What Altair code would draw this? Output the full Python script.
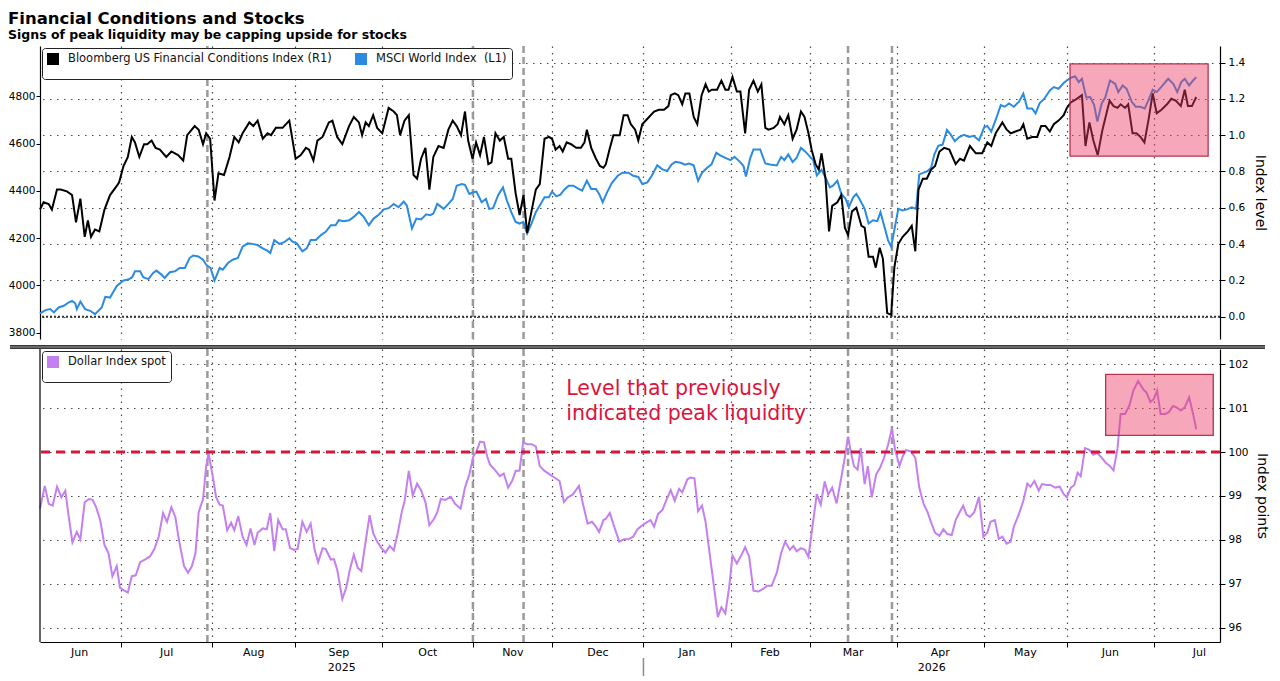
import altair as alt
import pandas as pd

FONT = "DejaVu Sans"
W, HT, HB = 1180, 293, 293

FCI_NAME = "Bloomberg US Financial Conditions Index (R1)"
MSCI_NAME = "MSCI World Index\u00a0 (L1)"
DXY_NAME = "Dollar Index spot"

# x = weekday index, 0 = Mon 2 Jun 2025
fci = [
    (0.0, 0.59), (0.9, 0.63), (2.2, 0.62), (3.0, 0.59), (4.3, 0.70), (5.2, 0.70), (6.8, 0.69), (8.1, 0.67),
    (9.1, 0.52), (10.2, 0.65), (11.3, 0.44), (12.1, 0.53), (12.9, 0.44), (13.9, 0.48), (15.0, 0.47), (16.3, 0.59),
    (17.7, 0.67), (19.4, 0.72), (20.0, 0.74), (21.1, 0.83), (22.2, 0.88), (23.2, 0.99), (24.0, 0.96), (25.1, 0.88),
    (26.3, 0.95), (27.1, 0.95), (28.2, 0.97), (29.2, 0.93), (30.3, 0.92), (31.9, 0.88), (33.2, 0.91), (34.9, 0.89),
    (36.2, 0.86), (37.2, 1.00), (39.1, 1.05), (40.1, 1.03), (41.2, 0.95), (42.0, 1.01), (43.0, 0.98), (44.1, 0.64),
    (45.1, 0.79), (46.5, 0.78), (47.9, 0.88), (49.1, 0.99), (50.2, 0.96), (51.2, 1.01), (52.9, 1.07), (53.9, 1.05),
    (55.0, 1.08), (56.3, 0.98), (57.5, 1.01), (58.4, 1.00), (59.6, 1.04), (61.3, 1.04), (63.0, 1.08), (64.6, 0.87),
    (65.9, 0.89), (67.2, 0.93), (68.0, 0.92), (69.1, 0.86), (70.1, 0.97), (71.4, 0.99), (73.0, 1.07), (73.9, 1.08),
    (75.1, 0.99), (76.4, 0.95), (78.1, 1.05), (79.3, 1.10), (80.6, 1.07), (81.4, 1.00), (82.3, 1.07), (83.1, 1.05),
    (84.2, 1.11), (85.2, 1.04), (86.5, 1.01), (88.1, 1.15), (89.4, 1.13), (90.2, 1.11), (91.0, 1.00), (92.1, 1.08),
    (93.2, 1.11), (94.4, 0.78), (95.3, 0.76), (96.3, 0.87), (97.4, 0.93), (98.4, 0.70), (99.4, 0.88), (100.7, 0.94),
    (102.0, 0.93), (103.2, 1.03), (104.3, 1.08), (105.3, 1.05), (106.4, 1.00), (107.4, 1.13), (108.2, 0.97), (109.3, 0.87),
    (110.2, 0.96), (111.2, 0.89), (112.2, 0.99), (113.3, 0.84), (114.1, 0.85), (115.1, 1.01), (116.2, 0.97), (117.2, 0.99),
    (118.3, 0.87), (119.1, 0.87), (120.2, 0.68), (121.2, 0.56), (122.2, 0.67), (123.1, 0.46), (124.2, 0.58), (125.3, 0.70),
    (126.3, 0.73), (127.5, 0.98), (128.6, 0.99), (129.4, 0.98), (130.3, 0.92), (131.3, 0.94), (132.1, 0.91), (133.1, 0.96),
    (134.2, 0.95), (135.5, 0.93), (136.7, 0.93), (137.6, 0.96), (138.2, 1.03), (139.3, 0.93), (140.5, 0.87), (141.5, 0.83),
    (142.4, 0.82), (143.0, 0.84), (143.9, 0.92), (144.9, 1.00), (146.0, 1.00), (146.5, 1.00), (147.5, 1.11), (148.5, 1.11),
    (149.3, 1.06), (150.4, 1.03), (151.2, 0.97), (152.2, 1.06), (153.5, 1.09), (155.2, 1.13), (156.4, 1.14), (157.7, 1.14),
    (158.8, 1.16), (159.4, 1.22), (160.4, 1.23), (161.3, 1.22), (162.3, 1.17), (163.1, 1.23), (164.1, 1.23), (165.2, 1.10),
    (166.1, 1.06), (167.2, 1.22), (168.2, 1.28), (169.0, 1.24), (169.8, 1.25), (171.1, 1.25), (172.2, 1.30), (173.2, 1.25),
    (174.0, 1.25), (175.0, 1.32), (176.1, 1.24), (177.0, 1.24), (178.2, 1.01), (179.2, 1.25), (180.3, 1.30), (181.4, 1.24),
    (182.3, 1.28), (183.3, 1.04), (184.1, 1.03), (185.4, 1.04), (186.4, 1.06), (187.0, 1.10), (188.1, 1.06), (189.1, 1.11),
    (190.2, 0.98), (191.2, 1.03), (192.3, 1.13), (193.2, 1.10), (194.2, 1.01), (195.0, 0.92), (196.0, 0.84), (196.8, 0.81),
    (197.5, 0.90), (198.5, 0.76), (199.4, 0.47), (200.2, 0.61), (201.5, 0.63), (202.5, 0.67), (203.4, 0.49), (204.2, 0.45),
    (205.2, 0.58), (206.3, 0.60), (207.6, 0.50), (208.4, 0.49), (209.4, 0.33), (210.5, 0.33), (211.2, 0.27), (212.2, 0.38),
    (213.0, 0.32), (214.1, 0.02), (215.1, 0.01), (215.9, 0.27), (216.9, 0.40), (218.0, 0.44), (219.3, 0.47), (220.3, 0.50),
    (221.2, 0.36), (222.0, 0.70), (223.1, 0.76), (224.1, 0.76), (225.2, 0.81), (226.2, 0.83), (227.3, 0.91), (228.5, 0.93),
    (229.8, 0.92), (230.6, 0.88), (231.4, 0.84), (232.5, 0.87), (233.5, 0.86), (235.0, 0.94), (236.5, 0.90), (238.1, 0.90),
    (239.4, 0.96), (240.4, 0.94), (241.5, 1.01), (243.2, 1.07), (244.3, 1.03), (245.3, 1.01), (246.5, 1.02), (247.8, 1.03),
    (248.5, 1.06), (249.5, 0.98), (250.7, 0.99), (252.0, 0.99), (253.0, 1.05), (254.1, 1.05), (255.2, 1.02), (256.2, 1.06),
    (257.4, 1.08), (258.7, 1.11), (259.5, 1.15), (260.5, 1.18), (262.0, 1.20), (263.3, 1.22), (264.2, 0.94), (265.2, 1.07),
    (266.2, 0.97), (267.3, 0.89), (268.5, 1.03), (270.3, 1.19), (271.3, 1.16), (272.3, 1.15), (273.1, 1.17), (274.2, 1.15),
    (275.0, 1.17), (276.1, 1.01), (277.1, 1.01), (278.1, 0.99), (279.1, 0.96), (280.1, 1.08), (281.2, 1.23), (282.2, 1.12),
    (283.4, 1.14), (284.8, 1.17), (285.9, 1.20), (287.0, 1.19), (288.3, 1.16), (289.3, 1.25), (290.1, 1.16), (291.1, 1.16),
    (292.2, 1.21),
]

msci = [
    (0.0, 3882), (1.4, 3896), (2.6, 3900), (3.5, 3886), (4.7, 3907), (6.0, 3914), (7.2, 3928), (8.1, 3935),
    (8.9, 3925), (9.3, 3900), (10.2, 3932), (11.4, 3900), (12.7, 3893), (13.9, 3879), (15.6, 3907), (16.5, 3952),
    (17.7, 3949), (19.4, 3998), (21.1, 4021), (22.3, 4025), (23.3, 4035), (24.0, 4060), (25.3, 4060), (26.1, 4035),
    (27.4, 4027), (28.6, 4053), (29.4, 4063), (30.7, 4046), (31.5, 4032), (32.8, 4056), (34.1, 4060), (35.3, 4074),
    (36.6, 4074), (37.8, 4116), (38.7, 4127), (40.0, 4123), (41.2, 4109), (42.0, 4088), (43.1, 4074), (44.1, 4021),
    (45.4, 4074), (46.2, 4067), (47.5, 4095), (48.7, 4109), (50.0, 4116), (51.2, 4164), (52.5, 4178), (53.7, 4176),
    (55.0, 4171), (56.3, 4157), (57.5, 4146), (58.2, 4137), (59.2, 4192), (60.5, 4176), (61.7, 4183), (63.0, 4199),
    (63.8, 4185), (64.9, 4178), (66.3, 4144), (67.4, 4157), (68.4, 4192), (69.7, 4192), (71.0, 4213), (72.2, 4227),
    (73.5, 4255), (74.7, 4255), (75.5, 4276), (76.8, 4272), (78.1, 4276), (79.3, 4290), (80.6, 4311), (81.8, 4290),
    (83.1, 4255), (84.3, 4283), (85.6, 4299), (86.9, 4322), (88.1, 4327), (89.4, 4345), (90.6, 4331), (91.9, 4355),
    (92.7, 4338), (94.0, 4241), (95.1, 4283), (96.3, 4279), (97.6, 4301), (98.6, 4297), (99.4, 4304), (100.4, 4345),
    (102.0, 4324), (103.2, 4345), (104.3, 4366), (105.3, 4422), (106.6, 4429), (107.4, 4426), (108.5, 4387), (109.5, 4394),
    (110.3, 4397), (111.6, 4352), (112.7, 4366), (113.5, 4324), (114.5, 4327), (115.8, 4383), (117.0, 4415), (118.0, 4359),
    (119.1, 4310), (120.2, 4269), (121.2, 4262), (122.1, 4269), (123.1, 4220), (124.2, 4262), (125.3, 4310), (126.3, 4338),
    (127.5, 4373), (128.6, 4373), (129.4, 4397), (130.5, 4377), (131.5, 4384), (132.5, 4405), (133.6, 4422), (134.8, 4422),
    (135.9, 4411), (137.0, 4401), (138.2, 4443), (139.3, 4408), (140.5, 4408), (141.3, 4387), (142.2, 4352), (143.3, 4394),
    (144.5, 4433), (146.0, 4464), (147.2, 4477), (148.7, 4477), (149.9, 4464), (151.2, 4459), (152.2, 4429), (153.5, 4436),
    (154.6, 4464), (156.0, 4508), (157.3, 4491), (158.5, 4484), (159.6, 4512), (160.6, 4523), (161.9, 4519), (163.0, 4511),
    (164.0, 4516), (165.2, 4508), (166.3, 4443), (167.3, 4477), (168.6, 4498), (169.7, 4512), (170.9, 4561), (171.9, 4550),
    (173.2, 4540), (174.5, 4530), (175.5, 4544), (176.7, 4526), (177.8, 4505), (178.4, 4461), (179.5, 4540), (180.3, 4575),
    (182.0, 4575), (183.3, 4516), (184.5, 4512), (186.2, 4508), (187.3, 4544), (188.1, 4530), (189.1, 4554), (190.2, 4522),
    (191.2, 4540), (192.3, 4582), (193.3, 4568), (194.3, 4550), (195.4, 4530), (196.3, 4466), (197.5, 4489), (198.5, 4457),
    (199.6, 4415), (200.4, 4422), (201.5, 4443), (202.5, 4387), (203.5, 4369), (204.4, 4331), (205.5, 4373), (206.3, 4387),
    (207.1, 4366), (208.4, 4324), (209.4, 4262), (210.5, 4276), (211.6, 4272), (212.4, 4310), (213.4, 4248), (214.3, 4192),
    (215.1, 4164), (215.9, 4234), (216.9, 4324), (218.0, 4317), (219.1, 4322), (220.3, 4331), (221.4, 4324), (222.2, 4470),
    (223.3, 4477), (224.3, 4484), (225.2, 4498), (226.0, 4554), (227.0, 4591), (228.1, 4596), (229.2, 4658), (230.2, 4637),
    (231.2, 4610), (232.3, 4628), (233.5, 4637), (234.8, 4628), (235.9, 4633), (237.3, 4614), (238.6, 4669), (239.4, 4675),
    (240.4, 4651), (241.5, 4700), (242.8, 4763), (243.8, 4756), (244.9, 4770), (246.1, 4756), (247.4, 4777), (248.5, 4811),
    (249.5, 4749), (250.7, 4749), (251.6, 4728), (252.6, 4770), (253.8, 4790), (255.2, 4825), (256.2, 4839), (257.4, 4832),
    (258.7, 4856), (259.7, 4870), (260.8, 4881), (261.6, 4884), (262.5, 4860), (263.3, 4874), (264.4, 4795), (265.4, 4797),
    (266.4, 4763), (267.2, 4693), (268.3, 4770), (269.2, 4795), (270.4, 4867), (271.7, 4853), (272.5, 4818), (273.6, 4846),
    (274.6, 4832), (275.9, 4777), (276.9, 4756), (278.1, 4756), (279.2, 4749), (280.1, 4783), (281.2, 4828), (282.2, 4818),
    (283.7, 4846), (285.1, 4874), (286.4, 4853), (287.4, 4818), (288.4, 4860), (289.3, 4874), (290.4, 4846), (291.4, 4867),
    (292.2, 4881),
]

dxy = [
    (0.0, 98.71), (1.2, 99.23), (2.2, 98.82), (3.2, 98.78), (4.3, 99.21), (5.4, 98.97), (6.4, 99.12), (7.2, 98.56),
    (8.2, 97.94), (9.3, 98.18), (10.2, 98.01), (11.3, 98.86), (12.4, 98.93), (13.3, 98.91), (14.2, 98.74), (15.2, 98.45),
    (16.3, 97.88), (17.3, 97.70), (18.3, 97.17), (19.4, 97.40), (20.2, 96.91), (21.3, 96.84), (22.2, 96.80), (23.2, 97.17),
    (24.2, 97.19), (25.3, 97.49), (26.5, 97.55), (27.8, 97.62), (28.9, 97.79), (30.0, 98.07), (31.1, 98.61), (32.1, 98.41),
    (33.2, 98.74), (34.2, 98.52), (35.1, 98.00), (36.4, 97.40), (37.4, 97.25), (38.4, 97.40), (39.3, 97.70), (40.1, 98.63),
    (41.2, 98.93), (42.0, 99.68), (42.6, 99.98), (43.7, 99.42), (44.5, 98.97), (45.4, 98.80), (46.2, 98.78), (47.3, 98.22),
    (48.3, 98.39), (49.1, 98.22), (50.1, 98.54), (51.2, 98.07), (52.2, 97.88), (53.2, 98.26), (54.2, 97.88), (55.0, 98.16),
    (56.3, 98.26), (57.3, 98.24), (58.2, 98.61), (59.2, 97.74), (60.2, 98.45), (61.3, 98.24), (62.1, 98.24), (63.2, 97.81),
    (64.2, 97.77), (65.1, 97.79), (66.3, 98.41), (67.4, 98.18), (68.4, 98.37), (69.4, 97.77), (70.3, 97.49), (71.4, 97.81),
    (72.2, 97.79), (73.5, 97.55), (74.3, 97.56), (75.1, 97.32), (76.4, 96.65), (77.4, 96.91), (78.3, 97.32), (79.3, 97.66),
    (80.3, 97.36), (81.2, 97.29), (82.1, 97.85), (83.3, 98.56), (84.2, 98.15), (85.2, 97.96), (86.3, 97.81), (87.3, 97.71),
    (88.4, 97.86), (89.4, 97.76), (90.4, 98.15), (91.5, 98.67), (92.1, 98.86), (93.2, 99.57), (94.2, 99.01), (95.3, 99.28),
    (96.3, 99.13), (97.4, 98.86), (98.4, 98.33), (99.6, 98.48), (100.4, 98.63), (101.3, 98.93), (102.4, 98.91), (103.8, 98.98),
    (104.9, 98.82), (106.3, 98.71), (107.4, 99.19), (108.5, 99.49), (109.5, 99.90), (110.3, 100.01), (111.2, 100.24), (112.2, 100.22),
    (113.0, 99.90), (113.7, 99.72), (114.9, 99.60), (116.2, 99.45), (117.2, 99.51), (118.3, 99.19), (119.3, 99.34), (120.2, 99.57),
    (121.2, 99.58), (122.1, 100.22), (123.1, 100.18), (124.2, 100.18), (125.3, 100.13), (126.3, 99.68), (127.5, 99.57), (128.8, 99.49),
    (130.0, 99.42), (131.3, 99.34), (132.4, 98.86), (133.4, 98.97), (134.6, 99.03), (136.2, 99.23), (137.3, 98.78), (138.4, 98.37),
    (139.5, 98.41), (140.5, 98.30), (141.3, 98.18), (142.4, 98.45), (143.0, 98.48), (144.0, 98.61), (145.1, 98.30), (146.4, 97.96),
    (147.6, 98.01), (148.7, 98.01), (149.9, 98.07), (151.0, 98.24), (152.2, 98.33), (153.5, 98.41), (154.3, 98.45), (155.2, 98.30),
    (156.2, 98.59), (157.3, 98.68), (158.3, 98.91), (159.4, 99.13), (160.4, 98.89), (161.5, 99.16), (162.3, 99.08), (163.6, 99.38),
    (164.4, 99.42), (165.4, 99.40), (166.3, 98.65), (167.3, 98.78), (168.2, 98.41), (169.2, 97.70), (170.3, 96.95), (171.3, 96.24),
    (172.2, 96.46), (173.2, 96.32), (174.2, 96.95), (175.0, 97.64), (176.1, 97.46), (177.2, 97.64), (178.2, 97.83), (179.2, 97.62),
    (180.3, 96.84), (181.6, 96.82), (182.7, 96.88), (183.7, 96.95), (184.9, 96.95), (186.2, 97.25), (187.3, 97.70), (188.3, 97.96),
    (189.5, 97.77), (190.4, 97.86), (191.2, 97.74), (192.3, 97.81), (193.3, 97.77), (194.2, 97.61), (195.2, 98.30), (196.3, 99.04),
    (197.3, 98.80), (198.3, 99.33), (199.2, 99.03), (200.2, 99.19), (201.3, 98.83), (202.5, 99.42), (203.5, 99.94), (204.2, 100.35),
    (204.9, 100.01), (205.7, 99.68), (206.6, 99.60), (207.4, 100.09), (208.4, 99.27), (209.2, 99.68), (210.2, 98.97), (211.3, 99.49),
    (212.3, 99.64), (213.3, 99.87), (214.3, 100.16), (215.3, 100.54), (216.1, 100.05), (217.2, 99.68), (218.0, 99.90), (218.9, 100.05),
    (220.1, 100.01), (221.2, 99.87), (222.2, 99.19), (223.3, 98.82), (224.3, 98.63), (225.3, 98.37), (226.2, 98.16), (227.3, 98.09),
    (228.3, 98.24), (229.3, 98.13), (230.4, 98.11), (231.4, 98.45), (232.3, 98.61), (233.3, 98.78), (234.1, 98.58), (235.0, 98.52),
    (236.1, 98.63), (237.3, 98.98), (238.4, 98.07), (239.4, 98.16), (240.2, 98.41), (241.3, 98.45), (242.3, 98.02), (243.2, 98.07),
    (244.3, 97.91), (245.3, 97.96), (246.1, 98.30), (247.4, 98.59), (248.5, 98.89), (249.5, 99.28), (250.3, 99.21), (251.3, 99.34),
    (252.4, 99.12), (253.2, 99.27), (254.3, 99.25), (255.3, 99.25), (256.6, 99.19), (257.7, 99.21), (258.7, 99.04), (259.5, 98.97),
    (260.5, 99.19), (261.4, 99.25), (262.2, 99.53), (263.0, 99.45), (264.1, 100.09), (265.2, 100.05), (266.2, 99.94), (267.2, 99.98),
    (268.3, 99.87), (269.4, 99.75), (270.4, 99.68), (271.3, 99.58), (272.3, 100.09), (273.1, 100.87), (274.2, 100.87), (275.3, 101.06),
    (276.3, 101.40), (277.5, 101.62), (278.8, 101.43), (279.6, 101.36), (280.6, 101.14), (281.5, 101.21), (282.3, 101.40), (283.2, 100.87),
    (284.3, 100.87), (285.3, 100.91), (286.3, 101.05), (287.2, 101.02), (288.3, 100.95), (289.3, 101.02), (290.4, 101.25), (291.4, 100.87),
    (292.2, 100.52),
]

month_names = ["Jun", "Jul", "Aug", "Sep", "Oct", "Nov", "Dec", "Jan", "Feb", "Mar", "Apr", "May", "Jun", "Jul"]
month_start = [0, 21, 44, 65, 87, 110, 130, 153, 175, 195, 217, 239, 260, 282, 305]
year_names = ["2025", "2026"]
event_x = [42.3, 109.4, 122.2, 204.2, 215.3]
peak_level = [100]
note_lines = ["Level that previously", "indicated peak liquidity"]
note_x = [133.0, 133.0]
note_y = [101.30, 100.73]
fci_box = {"x": [260.3], "x2": [295.2], "v": [1.393], "v2": [0.884]}
dxy_box = {"x": [269.3], "x2": [296.5], "v": [101.77], "v2": [100.38]}

X_DOM = [0, 298.2]
FCI_DOM = [-0.123, 1.491]
MSCI_DOM = [3773.7, 5012.8]
DXY_DOM = [95.67, 102.35]

BLUE = "#2a8be0"
PURPLE = "#c47ff0"
RED = "#dc143c"

# ---------- data frames ----------
df_fci = pd.DataFrame(fci, columns=["x", "v"]).assign(series=FCI_NAME)
df_msci = pd.DataFrame(msci, columns=["x", "v"]).assign(series=MSCI_NAME)
df_dxy = pd.DataFrame(dxy, columns=["x", "v"]).assign(series=DXY_NAME)
df_ev = pd.DataFrame({"x": event_x})
bounds = [s - 0.5 for s in month_start if X_DOM[0] < s - 0.5 < X_DOM[1]]
df_months = pd.DataFrame({
    "x": [(month_start[i] - 0.5 + month_start[i + 1] - 0.5) / 2 for i in range(len(month_names))],
    "t": month_names,
})
jan = month_start[7] - 0.5
df_years = pd.DataFrame({"x": [(X_DOM[0] + jan) / 2, (jan + X_DOM[1]) / 2], "t": year_names})
df_note = pd.DataFrame({"x": note_x, "v": note_y, "t": note_lines})
one = pd.DataFrame({"a": [0]})

# ---------- scales / axes ----------
xs = alt.Scale(domain=X_DOM, nice=False, zero=False)
vgrid = dict(grid=True, gridDash=[1.5, 5], gridColor="#4a4a4a", gridWidth=1.2)
hgrid = dict(grid=True, gridDash=[1.5, 5.5], gridColor="#4a4a4a", gridWidth=1.2)
ax_xt = alt.Axis(values=bounds, labels=False, ticks=False, domain=False, title=None, **vgrid)
ax_xb = alt.Axis(values=bounds, labels=False, ticks=True, tickSize=5, tickColor="#000",
                 domain=True, domainColor="#000", domainWidth=1.2, title=None, **vgrid)

fs = alt.Scale(domain=FCI_DOM, nice=False, zero=False)
ms = alt.Scale(domain=MSCI_DOM, nice=False, zero=False)
ds = alt.Scale(domain=DXY_DOM, nice=False, zero=False)

ax_r = alt.Axis(orient="right", values=[0, 0.2, 0.4, 0.6, 0.8, 1.0, 1.2, 1.4], format=".1f",
                title="Index level", tickSize=5, labelPadding=3, titlePadding=8,
                labelFontSize=10.5, domainWidth=1.2, **hgrid)
ax_l = alt.Axis(orient="left", values=[3800, 4000, 4200, 4400, 4600, 4800], format="d",
                title=None, tickSize=4, labelPadding=1, labelFontSize=10.5, grid=False, domainWidth=1.2)
ax_b = alt.Axis(orient="right", values=[96, 97, 98, 99, 100, 101, 102], format="d",
                title="Index points", tickSize=5, labelPadding=3, titlePadding=6,
                labelFontSize=10.5, domainWidth=1.2, **hgrid)


def XT(f="x"):
    return alt.X(f"{f}:Q", scale=xs, axis=ax_xt)


def XB(f="x"):
    return alt.X(f"{f}:Q", scale=xs, axis=ax_xb)


def YF(f="v"):
    return alt.Y(f"{f}:Q", scale=fs, axis=ax_r)


def YB(f="v"):
    return alt.Y(f"{f}:Q", scale=ds, axis=ax_b)


legend_kw = dict(orient="top-left", direction="horizontal", title=None, symbolType="square",
                 symbolSize=36, symbolStrokeWidth=6, fillColor="#ffffff", strokeColor="#222222",
                 cornerRadius=3, padding=5, offset=2, labelFont=FONT, labelFontSize=11.5,
                 labelColor="#111111", labelLimit=600, columnPadding=14, labelOffset=9)

col_top = alt.Color("series:N", scale=alt.Scale(domain=[FCI_NAME, MSCI_NAME], range=["#000000", BLUE]),
                    legend=alt.Legend(columns=2, **legend_kw))
col_bot = alt.Color("series:N", scale=alt.Scale(domain=[DXY_NAME], range=[PURPLE]),
                    legend=alt.Legend(**legend_kw))

# ---------- top panel ----------
ev_top = alt.Chart(df_ev).mark_rule(color="#9a9a9a", strokeWidth=2.5, strokeDash=[7, 4]).encode(x=XT())
msci_line = alt.Chart(df_msci).mark_line(strokeWidth=2).encode(
    x=XT(), y=alt.Y("v:Q", scale=ms, axis=ax_l), color=col_top)
left_group = alt.layer(ev_top, msci_line)

fci_line = alt.Chart(df_fci).mark_line(strokeWidth=2).encode(x=XT(), y=YF(), color=col_top)
zero_line = alt.Chart(pd.DataFrame({"v": [0.0]})).mark_rule(
    color="#333333", strokeWidth=2, strokeDash=[2, 2]).encode(y=YF())
box_top = alt.Chart(pd.DataFrame(fci_box)).mark_rect(
    fill="#ec3c64", fillOpacity=0.45, stroke="#b8344f", strokeWidth=1.3).encode(
    x=XT(), x2="x2:Q", y=YF(), y2="v2:Q")
right_group = alt.layer(fci_line, zero_line, box_top)

top = alt.layer(left_group, right_group).resolve_scale(y="independent").properties(width=W, height=HT)

# ---------- bottom panel ----------
ev_bot = alt.Chart(df_ev).mark_rule(color="#9a9a9a", strokeWidth=2.5, strokeDash=[7, 4]).encode(x=XB())
dxy_line = alt.Chart(df_dxy).mark_line(strokeWidth=2).encode(x=XB(), y=YB(), color=col_bot)
thr = alt.Chart(pd.DataFrame({"v": peak_level})).mark_rule(
    color=RED, strokeWidth=3, strokeDash=[9, 6]).encode(y=YB())
box_bot = alt.Chart(pd.DataFrame(dxy_box)).mark_rect(
    fill="#ec3c64", fillOpacity=0.45, stroke="#b8344f", strokeWidth=1.3).encode(
    x=XB(), x2="x2:Q", y=YB(), y2="v2:Q")
note = alt.Chart(df_note).mark_text(align="left", baseline="alphabetic", font=FONT, fontSize=20.5,
                                    color=RED).encode(x=XB(), y=YB(), text="t:N")
months = alt.Chart(df_months).mark_text(baseline="top", font=FONT, fontSize=11, color="#000").encode(
    x=XB(), y=alt.value(HB + 5), text="t:N")
years = alt.Chart(df_years).mark_text(baseline="top", font=FONT, fontSize=11, color="#000").encode(
    x=XB(), y=alt.value(HB + 20), text="t:N")
ysep = alt.Chart(pd.DataFrame({"x": [jan]})).mark_rule(color="#8a8a8a", strokeWidth=1.5).encode(
    x=XB(), y=alt.value(HB + 16), y2=alt.value(HB + 34))
left_border = alt.Chart(one).mark_rule(color="#000", strokeWidth=1.2).encode(x=alt.value(0))
sep_dark = alt.Chart(one).mark_rule(color="#3a3a3a", strokeWidth=4).encode(
    x=alt.value(-30), x2=alt.value(W + 45), y=alt.value(-2))
sep_light = alt.Chart(one).mark_rule(color="#9c9c9c", strokeWidth=1).encode(
    x=alt.value(-30), x2=alt.value(W + 45), y=alt.value(-2))

bottom = alt.layer(ev_bot, dxy_line, thr, box_bot, note, months, years, ysep,
                   left_border, sep_dark, sep_light).properties(width=W, height=HB)

chart = alt.vconcat(top, bottom, spacing=4).resolve_scale(
    color="independent", x="independent", y="independent"
).properties(
    title=alt.TitleParams(
        text="Financial Conditions and Stocks",
        subtitle="Signs of peak liquidity may be capping upside for stocks",
        anchor="start", font=FONT, fontSize=16.5, fontWeight="bold", color="#000000",
        subtitleFont=FONT, subtitleFontSize=12.5, subtitleFontWeight="bold", subtitleColor="#000000",
        subtitlePadding=2, offset=3,
    ),
    padding={"left": 0, "top": 2, "right": 2, "bottom": 0},
    background="white",
).configure_view(strokeWidth=0).configure_axis(
    labelFont=FONT, labelFontSize=11, labelColor="#000000", titleFont=FONT, titleFontSize=14,
    titleFontWeight="normal", titleColor="#000000", domainColor="#000000", tickColor="#000000",
)

chart.save("out.html", embed_options={"renderer": "svg", "actions": False})
